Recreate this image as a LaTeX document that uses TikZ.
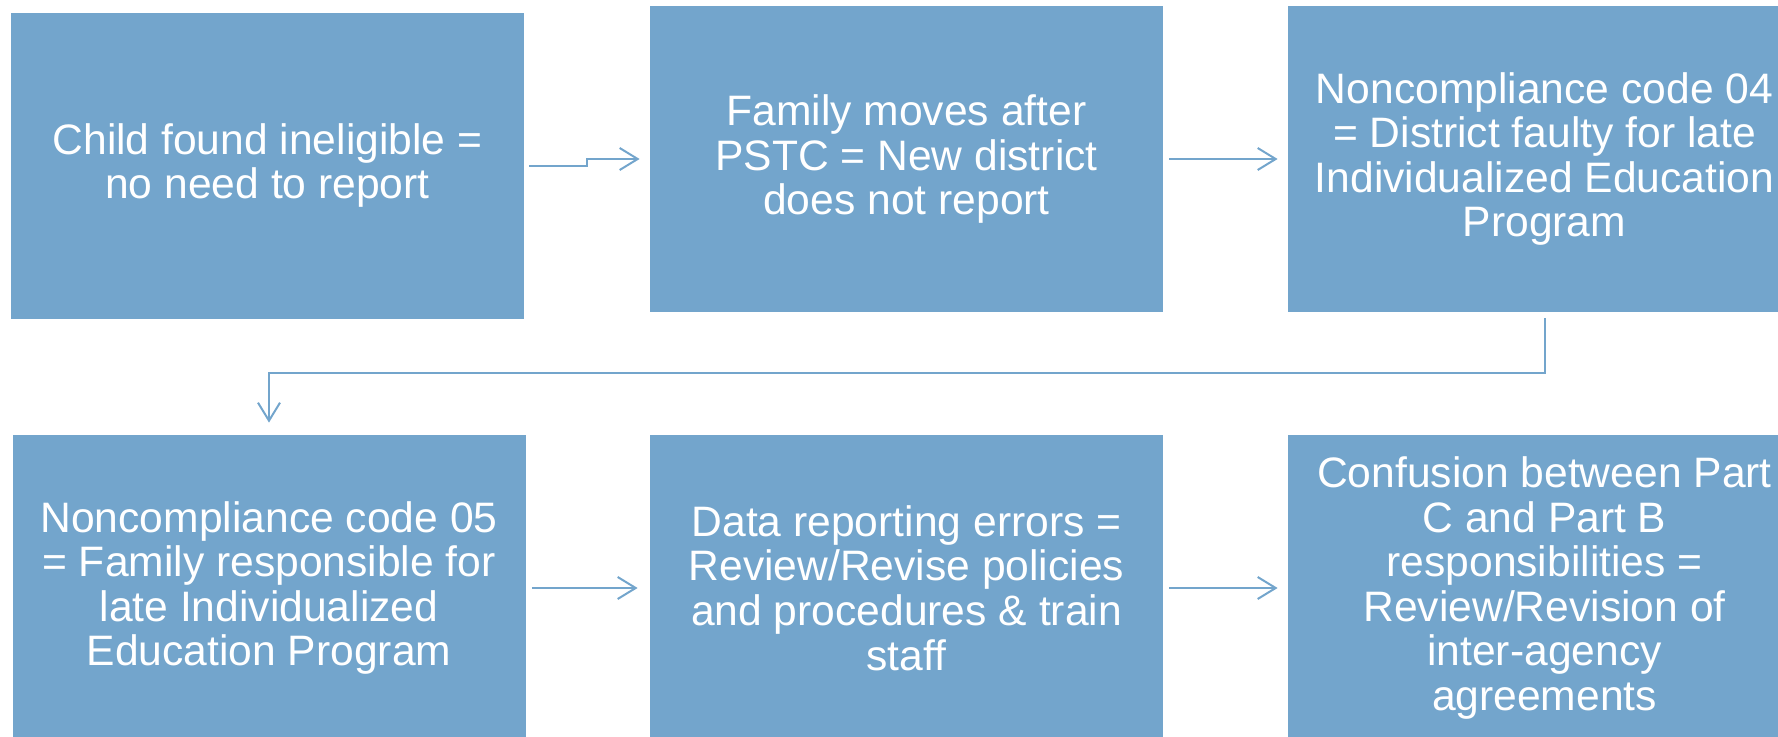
\documentclass[tikz,border=0pt]{standalone}
\usepackage{fontspec}
\setmainfont{Liberation Sans}
\usetikzlibrary{arrows.meta}
\definecolor{boxblue}{RGB}{115,165,204}

\begin{document}
\begin{tikzpicture}[
   x = 0.5pt, y = 0.5pt,
   flowbox/.style = {fill=boxblue, text=white, align=center, inner sep=0pt,
      minimum width=256.5pt, minimum height=153pt,
      font=\fontsize{21.3pt}{22.3pt}\selectfont},
   flowarrow/.style = {draw=boxblue, line width=1pt,
      -{Straight Barb[length=9pt, width=11pt]}},
]
   \useasboundingbox (0,0) rectangle (1778,736);
   \clip (0,0) rectangle (1778,736);
   % top row
   \node [flowbox] (ineligible) at (267.5,570.5)
      {Child found ineligible =\\no need to report};
   \node [flowbox] (moves) at (906.5,577)
      {Family moves after\\PSTC = New district\\does not report};
   \node [flowbox] (code04) at (1544.5,577)
      {Noncompliance code 04\\= District faulty for late\\Individualized Education\\Program};
   % bottom row
   \node [flowbox] (code05) at (269,148)
      {Noncompliance code 05\\= Family responsible for\\late Individualized\\Education Program};
   \node [flowbox] (errors) at (906.5,148)
      {Data reporting errors =\\Review/Revise policies\\and procedures \& train\\staff};
   \node [flowbox] (confusion) at (1544.5,148)
      {Confusion between Part\\C and Part B\\responsibilities =\\Review/Revision of\\inter-agency\\agreements};
   % connectors
   \draw [flowarrow] ([xshift=2.5pt]ineligible.east) -- ++(58,0)
      |- ([xshift=-5pt]moves.west);
   \draw [flowarrow] ([xshift=3pt]moves.east) -- ([xshift=-5pt]code04.west);
   \draw [flowarrow] ([yshift=-3pt]code04.south) -- ++(0,-55)
      -| ([yshift=6pt]code05.north);
   \draw [flowarrow] ([xshift=3pt]code05.east) -- ([xshift=-6pt]errors.west);
   \draw [flowarrow] ([xshift=3pt]errors.east) -- ([xshift=-5pt]confusion.west);
\end{tikzpicture}
\end{document}
